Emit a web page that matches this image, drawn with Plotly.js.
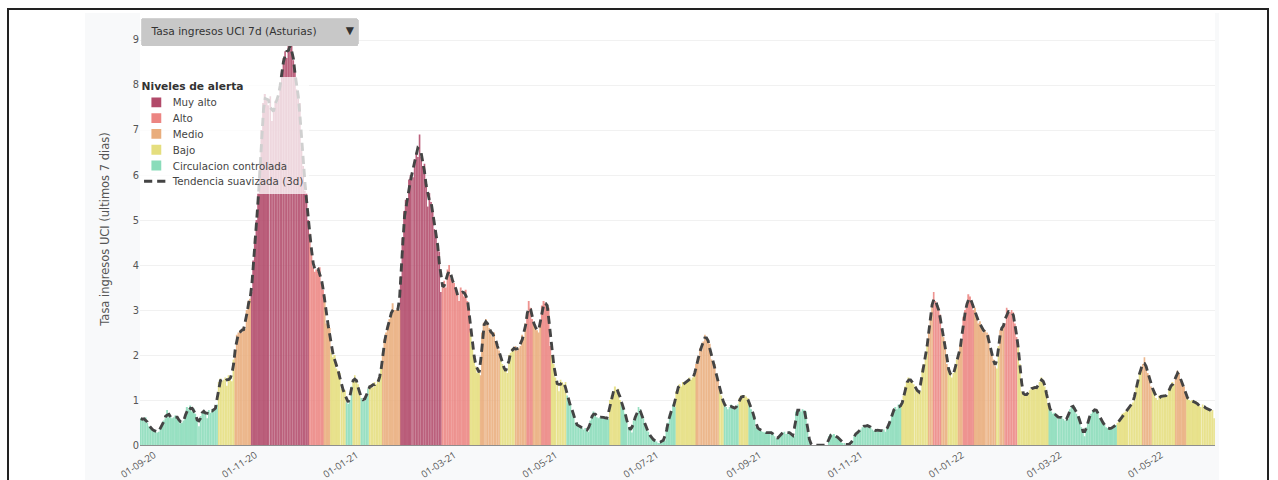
<!DOCTYPE html>
<html><head><meta charset="utf-8">
<script src="https://cdn.plot.ly/plotly-3.0.1.min.js"></script>
<style>
html,body{margin:0;padding:0;background:#fff;width:1278px;height:480px;overflow:hidden;}
#frame{position:absolute;left:7px;top:8px;width:1262px;height:500px;border:2px solid #222;border-bottom:none;box-sizing:border-box;}
#wrap{position:absolute;left:85px;top:13px;width:1134px;height:525px;overflow:hidden;}
#chart{width:1383px;height:640px;transform:scale(0.82);transform-origin:0 0;}
</style></head><body>
<div id="frame"></div>
<div id="wrap"><div id="chart"></div></div>
<script>
const startDate = '2020-08-24';
const values = [
0.60,0.58,0.55,0.62,0.50,0.42,0.38,0.35,0.32,0.30,
0.28,0.30,0.38,0.45,0.55,0.60,0.78,0.62,0.65,0.60,
0.62,0.66,0.62,0.58,0.48,0.50,0.55,0.62,0.85,0.80,
0.88,0.75,0.82,0.70,0.55,0.42,0.65,0.72,0.78,0.75,
0.60,0.78,0.72,0.80,0.76,0.80,0.90,1.40,1.48,1.42,
1.45,1.50,1.32,1.55,1.50,1.42,1.90,2.10,2.45,2.50,
2.55,2.50,2.62,2.58,3.00,3.20,3.25,3.40,4.10,4.60,
5.00,5.60,6.20,7.00,7.60,7.80,7.70,7.55,7.75,7.20,
7.40,7.65,7.60,7.70,8.05,8.20,8.60,8.75,8.60,8.90,
8.80,8.90,8.55,8.30,7.90,7.70,7.60,6.60,6.20,5.65,
5.60,5.00,4.70,4.30,3.95,3.85,3.90,3.85,3.95,3.60,
3.45,3.30,2.70,2.65,2.60,2.05,1.95,2.00,1.70,1.65,
1.60,1.25,1.20,1.22,0.95,0.92,1.00,1.30,1.45,1.55,
1.40,1.35,1.10,1.05,1.00,0.98,1.10,1.25,1.30,1.35,
1.28,1.40,1.35,1.45,1.40,1.70,2.05,2.35,2.50,2.65,
2.80,2.85,3.15,3.00,3.00,3.05,3.00,3.75,4.60,5.20,
5.45,5.35,5.90,6.00,5.95,6.35,6.50,6.40,6.90,6.40,
6.20,6.25,5.80,5.30,5.60,5.40,5.20,4.80,4.60,4.40,
4.30,3.40,3.50,3.65,3.50,3.90,4.00,3.70,3.65,3.60,
3.45,3.35,3.20,3.50,3.40,3.30,3.45,3.20,3.00,2.50,
2.20,1.95,1.75,1.60,1.70,1.55,2.50,2.72,2.80,2.70,
2.60,2.55,2.40,2.50,2.30,2.20,2.10,1.95,1.80,1.70,
1.65,1.60,2.00,2.05,2.15,2.10,2.20,2.10,2.15,2.20,
2.45,2.40,2.70,2.90,3.20,3.05,2.80,2.70,2.60,2.55,
2.50,2.70,3.10,3.20,3.15,3.10,3.05,2.20,2.00,1.80,
1.50,1.40,1.20,1.45,1.40,1.35,1.40,1.10,0.95,0.90,
0.75,0.70,0.50,0.45,0.40,0.42,0.40,0.35,0.38,0.33,
0.30,0.55,0.62,0.75,0.70,0.62,0.60,0.62,0.65,0.60,
0.60,0.62,0.58,1.00,1.10,1.20,1.30,1.20,1.25,1.00,
0.95,0.85,0.70,0.55,0.40,0.35,0.28,0.55,0.60,0.70,
0.85,0.80,0.65,0.60,0.45,0.35,0.30,0.20,0.15,0.12,
0.10,0.08,0.05,0.05,0.10,0.12,0.10,0.40,0.50,0.70,
0.75,0.90,0.85,1.20,1.30,1.35,1.30,1.40,1.35,1.40,
1.45,1.50,1.45,1.50,1.55,1.80,1.95,2.15,2.10,2.30,
2.45,2.40,2.30,2.25,1.90,1.85,1.80,1.50,1.45,1.30,
1.10,0.95,0.90,0.85,0.80,0.85,0.90,0.82,0.80,0.85,
0.90,1.05,1.10,1.05,1.10,1.08,1.05,0.90,0.80,0.70,
0.65,0.40,0.35,0.38,0.32,0.30,0.28,0.30,0.25,0.28,
0.30,0.25,0.20,0.15,0.15,0.18,0.25,0.28,0.30,0.25,
0.28,0.30,0.25,0.20,0.20,0.75,0.78,0.80,0.75,0.80,
0.78,0.75,0.30,0.10,0,0,0,0,0,0,
0,0,0,0,0,0.20,0.25,0.22,0.25,0.20,
0.18,0.15,0.10,0.05,0.05,0,0,0.05,0,0.10,
0.20,0.25,0.30,0.28,0.35,0.40,0.42,0.45,0.40,0.45,
0.40,0.35,0.32,0.35,0.30,0.35,0.32,0.30,0.35,0.30,
0.40,0.45,0.55,0.70,0.80,0.85,0.80,0.90,0.85,0.88,
1.10,1.30,1.40,1.50,1.45,1.40,1.35,1.30,1.20,1.15,
1.20,1.70,1.80,1.90,2.20,2.50,2.85,3.10,3.40,3.20,
3.10,3.00,2.90,2.50,2.40,2.30,1.80,1.70,1.55,1.50,
1.60,1.70,1.90,2.00,2.20,2.30,2.85,3.00,3.05,3.35,
3.30,3.15,3.00,3.05,2.80,2.70,2.75,2.60,2.50,2.55,
2.50,2.45,2.10,2.00,1.90,1.75,1.70,2.20,2.55,2.60,
2.65,2.70,3.05,2.90,2.95,3.00,2.95,2.70,2.40,2.20,
1.80,1.20,1.15,1.10,1.12,1.15,1.22,1.25,1.30,1.25,
1.30,1.28,1.40,1.50,1.45,1.30,1.20,0.90,0.80,0.75,
0.70,0.72,0.65,0.60,0.62,0.65,0.58,0.55,0.60,0.58,
0.80,0.85,0.88,0.85,0.70,0.65,0.60,0.40,0.30,0.20,
0.40,0.55,0.65,0.70,0.78,0.80,0.78,0.75,0.60,0.55,
0.50,0.45,0.40,0.38,0.35,0.38,0.40,0.42,0.45,0.50,
0.55,0.60,0.70,0.72,0.75,0.80,0.85,0.90,0.95,1.00,
1.30,1.45,1.60,1.70,1.80,1.95,1.70,1.60,1.55,1.30,
1.25,1.20,1.05,1.00,1.10,1.05,1.10,1.12,1.08,1.10,
1.25,1.30,1.40,1.35,1.55,1.65,1.60,1.40,1.35,1.30,
1.10,1.05,1.00,0.98,1.00,0.95,0.98,0.90,0.88,0.85,
0.90,0.85,0.82,0.80,0.78,0.75,0.78,0.60
];
const levelNames = ['Muy alto','Alto','Medio','Bajo','Circulacion controlada'];
const levelColors = ['#b24a6a','#ec8582','#e9ad7c','#e5de7e','#8adcba'];
// [level index, number of consecutive days]
const levelRuns = [
[4,47],[3,10],[2,10],[0,35],[1,9],[2,4],[3,9],[4,4],[3,5],[4,5],[3,8],[2,11],[0,25],[1,17],
[3,6],[2,12],[3,9],[2,7],[1,4],[2,5],[1,6],[3,9],[4,26],[3,7],[4,33],[3,12],[2,14],[3,3],
[4,9],[3,6],[4,92],[3,16],[2,3],[1,5],[2,4],[3,6],[2,3],[1,7],[2,13],[3,2],[2,3],[1,8],
[3,19],[4,41],[3,15],[2,6],[3,14],[2,7],[3,17]
];
const yTitle = 'Tasa ingresos UCI (ultimos 7 dias)';
const menuLabel = 'Tasa ingresos UCI 7d (Asturias)';
const trendName = 'Tendencia suavizada (3d)';

const DAY = 86400000;
const t0 = Date.parse(startDate + 'T00:00:00Z');
function iso(i){ return new Date(t0 + i*DAY).toISOString().slice(0,10); }
const dates = values.map((v,i)=>iso(i));
const levels = [];
levelRuns.forEach(([c,n])=>{ for(let k=0;k<n;k++) levels.push(c); });

const traces = levelNames.map((name,li)=>({
  type:'bar', name:name,
  x:dates,
  y:values.map((v,i)=> levels[i]===li ? v : null),
  width:0.8*DAY,
  marker:{color:levelColors[li], opacity:0.88, line:{width:0}},
  hoverinfo:'x+y'
}));
const trend = values.map((v,i)=>{
  let s=0,n=0;
  for(let k=i-1;k<=i+1;k++){ if(k>=0 && k<values.length){ s+=values[k]; n++; } }
  return s/n;
});
traces.push({type:'scatter', mode:'lines', name:trendName, x:dates, y:trend,
  line:{color:'#444', width:3.5, dash:'10px,6px'}});

const FONT = '"DejaVu Sans", sans-serif';
const layout = {
  width:1383, height:640,
  paper_bgcolor:'#f8f9fa', plot_bgcolor:'#ffffff',
  font:{family:FONT, size:12, color:'#444'},
  margin:{l:67, r:5, t:0, b:113},
  barmode:'overlay',
  showlegend:true,
  legend:{x:0, xanchor:'left', y:0.853, yanchor:'top', bgcolor:'rgba(255,255,255,0.75)',
    title:{text:'<b>Niveles de alerta</b>', font:{size:13, color:'#333'}}, font:{size:12.5, color:'#444'}},
  xaxis:{type:'date', tickformat:'%d-%m-%y', dtick:'M2', tick0:'2020-09-01', tickangle:-33,
    showgrid:false, showline:true, linecolor:'#777', linewidth:1, ticks:'',
    tickfont:{family:'"Open Sans", sans-serif', size:11.8, color:'#555'}},
  yaxis:{range:[0,9.6], dtick:1, gridcolor:'#eeeeee', zeroline:false, showline:false,
    tickfont:{size:12, color:'#555'}, title:{text:yTitle, font:{size:14, color:'#555'}}},
  updatemenus:[{type:'dropdown', x:0, xanchor:'left', y:1, yanchor:'top', pad:{t:6, l:1, r:0, b:0},
    bgcolor:'#c8c8c8', bordercolor:'#c8c8c8', font:{size:13, color:'#333'}, active:0, showactive:true,
    buttons:[{label:menuLabel + '\u00a0\u00a0\u00a0\u00a0\u00a0', method:'skip', args:[]}]}]
};
Plotly.newPlot('chart', traces, layout, {displayModeBar:false});
</script>
</body></html>
